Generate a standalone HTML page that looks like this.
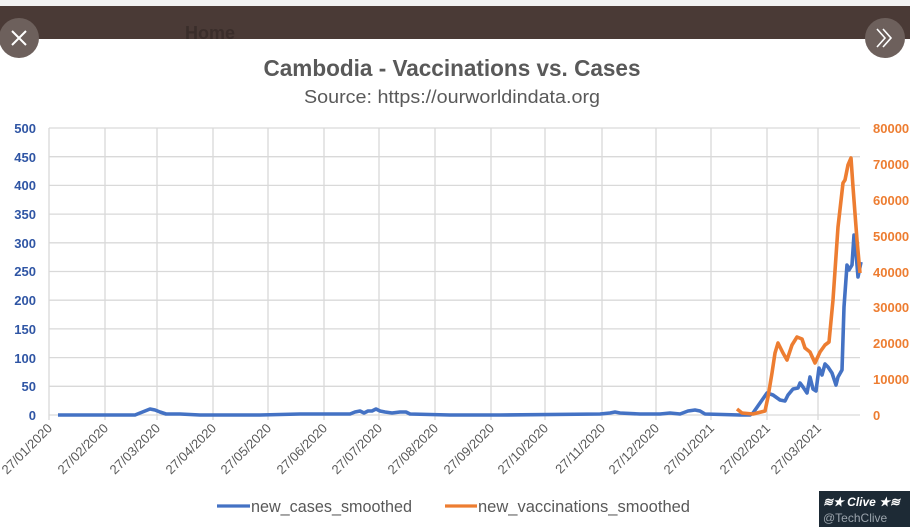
<!DOCTYPE html>
<html><head><meta charset="utf-8"><style>
html,body{margin:0;padding:0;background:#fff;width:910px;height:530px;overflow:hidden}
svg{display:block}
text{font-family:"Liberation Sans",sans-serif}
</style></head><body>
<svg width="910" height="530" viewBox="0 0 910 530">
<rect x="0" y="0" width="910" height="6" fill="#f1f1f1"/>
<rect x="0" y="6" width="910" height="33" fill="#4a3a36"/>
<text x="185" y="39" font-size="18" font-weight="bold" fill="#3a2d2a">Home</text>
<circle cx="19" cy="38" r="20" fill="#6d605c"/>
<path d="M12 31 L26 45 M26 31 L12 45" stroke="#fff" stroke-width="2"/>
<circle cx="885" cy="38" r="20" fill="#6d605c"/>
<path d="M877 29 L885 38 L877 47 M883 29 L891 38 L883 47" stroke="#fff" stroke-width="1.6" fill="none"/>
<text x="452" y="76" text-anchor="middle" font-size="23" font-weight="bold" fill="#595959" textLength="377" lengthAdjust="spacingAndGlyphs">Cambodia - Vaccinations vs. Cases</text>
<text x="452" y="103" text-anchor="middle" font-size="18" fill="#595959" textLength="296" lengthAdjust="spacingAndGlyphs">Source: https://ourworldindata.org</text>
<g stroke="#d9d9d9" stroke-width="1.3">
<line x1="49" y1="128" x2="860" y2="128"/><line x1="49" y1="156.7" x2="860" y2="156.7"/><line x1="49" y1="185.4" x2="860" y2="185.4"/><line x1="49" y1="214.1" x2="860" y2="214.1"/><line x1="49" y1="242.8" x2="860" y2="242.8"/><line x1="49" y1="271.5" x2="860" y2="271.5"/><line x1="49" y1="300.2" x2="860" y2="300.2"/><line x1="49" y1="328.9" x2="860" y2="328.9"/><line x1="49" y1="357.6" x2="860" y2="357.6"/><line x1="49" y1="386.3" x2="860" y2="386.3"/><line x1="49" y1="415" x2="860" y2="415"/>
<line x1="49" y1="128" x2="49" y2="420"/><line x1="105" y1="128" x2="105" y2="420"/><line x1="157" y1="128" x2="157" y2="420"/><line x1="213" y1="128" x2="213" y2="420"/><line x1="268" y1="128" x2="268" y2="420"/><line x1="324" y1="128" x2="324" y2="420"/><line x1="379" y1="128" x2="379" y2="420"/><line x1="435" y1="128" x2="435" y2="420"/><line x1="491" y1="128" x2="491" y2="420"/><line x1="545" y1="128" x2="545" y2="420"/><line x1="602" y1="128" x2="602" y2="420"/><line x1="656" y1="128" x2="656" y2="420"/><line x1="711" y1="128" x2="711" y2="420"/><line x1="767" y1="128" x2="767" y2="420"/><line x1="818" y1="128" x2="818" y2="420"/>
</g>
<g font-size="13" font-weight="bold" fill="#2f55a4" text-anchor="end">
<text x="36" y="133">500</text><text x="36" y="162">450</text><text x="36" y="190">400</text><text x="36" y="219">350</text><text x="36" y="248">300</text><text x="36" y="276">250</text><text x="36" y="305">200</text><text x="36" y="334">150</text><text x="36" y="363">100</text><text x="36" y="391">50</text><text x="36" y="420">0</text>
</g>
<g font-size="13" font-weight="bold" fill="#ed7d31">
<text x="873" y="133">80000</text><text x="873" y="169">70000</text><text x="873" y="205">60000</text><text x="873" y="241">50000</text><text x="873" y="277">40000</text><text x="873" y="312">30000</text><text x="873" y="348">20000</text><text x="873" y="384">10000</text><text x="873" y="420">0</text>
</g>
<g font-size="13" fill="#595959" text-anchor="end">
<text transform="translate(53,429) rotate(-45)">27/01/2020</text>
<text transform="translate(109,429) rotate(-45)">27/02/2020</text>
<text transform="translate(161,429) rotate(-45)">27/03/2020</text>
<text transform="translate(217,429) rotate(-45)">27/04/2020</text>
<text transform="translate(272,429) rotate(-45)">27/05/2020</text>
<text transform="translate(328,429) rotate(-45)">27/06/2020</text>
<text transform="translate(383,429) rotate(-45)">27/07/2020</text>
<text transform="translate(439,429) rotate(-45)">27/08/2020</text>
<text transform="translate(495,429) rotate(-45)">27/09/2020</text>
<text transform="translate(549,429) rotate(-45)">27/10/2020</text>
<text transform="translate(606,429) rotate(-45)">27/11/2020</text>
<text transform="translate(660,429) rotate(-45)">27/12/2020</text>
<text transform="translate(715,429) rotate(-45)">27/01/2021</text>
<text transform="translate(771,429) rotate(-45)">27/02/2021</text>
<text transform="translate(822,429) rotate(-45)">27/03/2021</text>
</g>
<polyline fill="none" stroke="#4472c4" stroke-width="3.6" stroke-linejoin="round" points="58,415 135,415 140,413 145,411 150,409 155,410 160,412 166,414 180,414 200,415 260,415 300,414 320,414 350,414 355,412 360,411 364,413 368,411 372,411 376,409 380,411 385,412 392,413 400,412 406,412 410,414 450,415 500,415 600,414 610,413 615,412 620,413 640,414 650,414 660,414 670,413 680,414 688,411 695,410 700,411 705,414 740,415 750,415 753,413 760,403 767,393 773,395 780,400 785,401 788,395 793,389 798,388 800,383 803,387 807,393 810,377 813,389 816,391 819,368 822,375 825,364 828,367 832,373 836,385 838,377 842,370 844,307 847,265 849,270 852,265 854,235 856,253 858,277 861,262"/>
<polyline fill="none" stroke="#ed7d31" stroke-width="3.6" stroke-linejoin="round" points="737,409 742,413 753,414 765,411 768,397 772,373 775,353 778,343 783,353 787,360 792,345 797,337 802,339 805,348 810,352 815,363 820,352 825,345 829,342 833,300 838,227 843,183 845,180 848,165 851,158 853,187 857,240 860,273"/>
<line x1="217" y1="506" x2="250" y2="506" stroke="#4472c4" stroke-width="3.2"/>
<text x="251" y="512" font-size="16.5" fill="#595959" textLength="161" lengthAdjust="spacingAndGlyphs">new_cases_smoothed</text>
<line x1="445" y1="506" x2="477" y2="506" stroke="#ed7d31" stroke-width="3.2"/>
<text x="478" y="512" font-size="16.5" fill="#595959" textLength="212" lengthAdjust="spacingAndGlyphs">new_vaccinations_smoothed</text>
<rect x="819" y="491" width="91" height="36" fill="#1d2a35"/>
<text x="823" y="506" font-size="12" font-weight="bold" font-style="italic" fill="#fff">≋★ Clive ★≋</text>
<text x="823" y="522" font-size="12" fill="#9aa3ab">@TechClive</text>
</svg>
</body></html>
